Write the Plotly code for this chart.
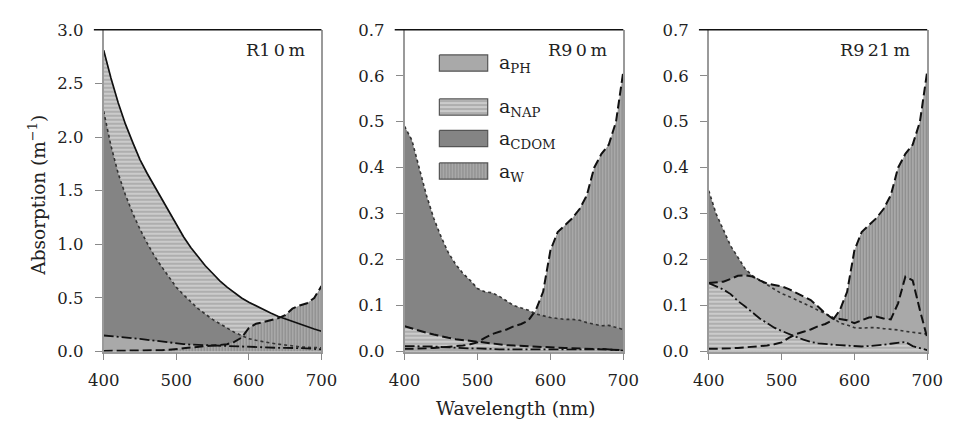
import plotly.graph_objects as go

WL = list(range(400, 701, 10))

WATER = [0.006, 0.006, 0.006, 0.007, 0.008, 0.009, 0.010, 0.011, 0.013, 0.016,
         0.020, 0.030, 0.038, 0.043, 0.048, 0.055, 0.060, 0.068, 0.090, 0.13,
         0.22, 0.26, 0.275, 0.29, 0.31, 0.34, 0.40, 0.43, 0.45, 0.50, 0.61]

# Panel R1 0 m
R1_NAP = [2.81, 2.55, 2.32, 2.12, 1.95, 1.79, 1.66, 1.54, 1.42, 1.30,
          1.18, 1.07, 0.97, 0.88, 0.80, 0.73, 0.66, 0.60, 0.55, 0.50,
          0.46, 0.425, 0.39, 0.36, 0.33, 0.305, 0.28, 0.255, 0.23, 0.21, 0.19]
R1_CDOM = [2.24, 1.92, 1.66, 1.46, 1.29, 1.14, 1.01, 0.89, 0.79, 0.69,
           0.60, 0.53, 0.46, 0.40, 0.35, 0.30, 0.26, 0.22, 0.18, 0.15,
           0.12, 0.105, 0.09, 0.08, 0.07, 0.06, 0.05, 0.045, 0.04, 0.037, 0.035]
R1_PH = [0.15, 0.145, 0.14, 0.132, 0.125, 0.118, 0.11, 0.10, 0.09, 0.082,
         0.075, 0.07, 0.065, 0.062, 0.06, 0.057, 0.055, 0.052, 0.05, 0.047,
         0.045, 0.042, 0.04, 0.038, 0.035, 0.035, 0.035, 0.035, 0.03, 0.025, 0.02]

# Panel R9 0 m
R9S_CDOM = [0.49, 0.46, 0.40, 0.34, 0.29, 0.25, 0.215, 0.19, 0.17, 0.155,
            0.137, 0.13, 0.128, 0.12, 0.11, 0.10, 0.095, 0.09, 0.082, 0.078,
            0.074, 0.072, 0.07, 0.07, 0.068, 0.063, 0.06, 0.056, 0.057, 0.052, 0.048]
R9S_NAP = [0.055, 0.05, 0.045, 0.041, 0.037, 0.033, 0.03, 0.027, 0.025, 0.023,
           0.021, 0.019, 0.017, 0.015, 0.014, 0.013, 0.012, 0.011, 0.010, 0.0095,
           0.009, 0.0085, 0.008, 0.0075, 0.007, 0.0065, 0.006, 0.0055, 0.005, 0.004, 0.003]
R9S_PH = [0.012, 0.012, 0.011, 0.011, 0.011, 0.010, 0.009, 0.008, 0.008, 0.007,
          0.007, 0.006, 0.006, 0.005, 0.005, 0.005, 0.004, 0.004, 0.004, 0.004,
          0.004, 0.004, 0.004, 0.004, 0.004, 0.004, 0.005, 0.006, 0.005, 0.003, 0.002]

# Panel R9 21 m
R9D_CDOM = [0.35, 0.30, 0.265, 0.23, 0.205, 0.18, 0.165, 0.155, 0.146, 0.135,
            0.126, 0.12, 0.113, 0.105, 0.098, 0.09, 0.082, 0.075, 0.062, 0.058,
            0.052, 0.051, 0.052, 0.052, 0.05, 0.049, 0.047, 0.044, 0.042, 0.04, 0.038]
R9D_PH = [0.149, 0.15, 0.152, 0.158, 0.165, 0.166, 0.163, 0.155, 0.148, 0.145,
          0.142, 0.136, 0.128, 0.12, 0.112, 0.098, 0.083, 0.072, 0.071, 0.068,
          0.062, 0.068, 0.074, 0.076, 0.072, 0.07, 0.105, 0.163, 0.155, 0.09, 0.03]
R9D_NAP = [0.149, 0.142, 0.135, 0.125, 0.11, 0.098, 0.085, 0.072, 0.062, 0.052,
           0.045, 0.038, 0.032, 0.026, 0.021, 0.018, 0.016, 0.015, 0.014, 0.013,
           0.011, 0.011, 0.012, 0.013, 0.015, 0.017, 0.019, 0.021, 0.012, 0.007, 0.003]

PANEL_LABELS = ["R1\u20090\u2009m", "R9\u20090\u2009m", "R9\u200921\u2009m"]
Y_MAX = [3.0, 0.7, 0.7]
Y_TICKS = [[0, 0.5, 1.0, 1.5, 2.0, 2.5, 3.0],
           [0, 0.1, 0.2, 0.3, 0.4, 0.5, 0.6, 0.7],
           [0, 0.1, 0.2, 0.3, 0.4, 0.5, 0.6, 0.7]]
X_TICKS = [400, 500, 600, 700]
LEGEND_NAMES = ["a<sub>PH</sub>", "a<sub>NAP</sub>", "a<sub>CDOM</sub>", "a<sub>W</sub>"]
LEGEND_KEYS = ["PH", "NAP", "CDOM", "W"]

FONT = "DejaVu Serif"
W, H = 958, 433

STYLE = {
    "PH": dict(fillcolor="#a9a9a9"),
    "CDOM": dict(fillcolor="#848484"),
    "NAP": dict(fillcolor="#c4c4c4",
                fillpattern=dict(shape="-", bgcolor="#cbcbcb", fgcolor="#8c8c8c",
                                 size=4, solidity=0.45)),
    "W": dict(fillcolor="#a0a0a0",
              fillpattern=dict(shape="|", bgcolor="#ababab", fgcolor="#686868",
                               size=3, solidity=0.4)),
}

LINE_SOLID = dict(color="#111111", width=1.7, dash="solid")
LINE_DOT = dict(color="#333333", width=1.6, dash="dot")
LINE_DASH = dict(color="#111111", width=2.0, dash="9px,4px")
LINE_DASHDOT = dict(color="#111111", width=1.8, dash="10px,3px,2px,3px")

# per panel: (key, values, line) listed in drawing order
PANELS = [
    [("NAP", R1_NAP, LINE_SOLID), ("CDOM", R1_CDOM, LINE_DOT),
     ("PH", R1_PH, LINE_DASHDOT), ("W", WATER, LINE_DASH)],
    [("W", WATER, LINE_DASH), ("CDOM", R9S_CDOM, LINE_DOT),
     ("NAP", R9S_NAP, LINE_DASH), ("PH", R9S_PH, LINE_DASHDOT)],
    [("W", WATER, LINE_DASH), ("CDOM", R9D_CDOM, LINE_DOT),
     ("PH", R9D_PH, LINE_DASH), ("NAP", R9D_NAP, LINE_DASHDOT)],
]

X_DOM_PX = [(90.7, 316.0), (402.0, 628.3), (716.7, 942.7)]
Y_DOM_PX = (21.7, 358.3)

fig = go.Figure()
layout = dict(width=W, height=H, margin=dict(l=0, r=0, t=0, b=0),
              paper_bgcolor="white", plot_bgcolor="rgba(0,0,0,0)", showlegend=False,
              font=dict(family=FONT, size=16, color="#222222"))
annotations = []
shapes = []

ydom = [(H - Y_DOM_PX[1]) / H, (H - Y_DOM_PX[0]) / H]

for i, panel in enumerate(PANELS):
    sfx = "" if i == 0 else str(i + 1)
    xa, ya = "x" + sfx, "y" + sfx
    for key, vals, line in panel:
        fig.add_trace(go.Scatter(x=WL, y=vals, xaxis=xa, yaxis=ya, mode="none",
                                 fill="tozeroy", hoverinfo="skip", **STYLE[key]))
    for key, vals, line in panel:
        fig.add_trace(go.Scatter(x=WL, y=vals, xaxis=xa, yaxis=ya, mode="lines",
                                 line=line, hoverinfo="skip"))
    x0, x1 = X_DOM_PX[i]
    layout["xaxis" + sfx] = dict(
        domain=[x0 / W, x1 / W], range=[400, 700], anchor=ya,
        tickvals=X_TICKS, ticks="outside", ticklen=7, tickcolor="#8a8a8a",
        showline=True, linecolor="#9a9a9a", linewidth=1.5, showgrid=False,
        zeroline=False, tickfont=dict(size=16.5, family=FONT, color="#222"),
        ticklabelstandoff=6)
    layout["yaxis" + sfx] = dict(
        domain=ydom, range=[0, Y_MAX[i]], anchor=xa,
        tickvals=Y_TICKS[i], tickformat=".1f", ticks="outside", ticklen=7,
        tickcolor="#8a8a8a", showline=True, linecolor="#9a9a9a", linewidth=1.5,
        mirror=True, showgrid=False, zeroline=False,
        tickfont=dict(size=16.5, family=FONT, color="#222"), ticklabelstandoff=8)
    shapes.append(dict(type="line", xref=xa + " domain", yref=ya + " domain",
                       x0=-0.045, x1=1.0, y0=1, y1=1,
                       line=dict(color="#111111", width=1.5)))
    annotations.append(dict(text=PANEL_LABELS[i], xref=xa + " domain",
                            yref=ya + " domain", x=0.935, y=0.938,
                            xanchor="right", yanchor="middle", showarrow=False,
                            font=dict(size=17.5, family=FONT, color="#222")))

# legend drawn inside the middle panel on an auxiliary axis (pixel units)
LEG_TOP_PX, LEG_BOT_PX = 44, 184
LEG_ROWS = [48, 94, 127, 161]
LEG_BOX_H = 17
LEG_BOX_W = 50
layout["xaxis4"] = dict(domain=[436 / W, 606 / W], range=[0, 170], visible=False,
                        anchor="y4", fixedrange=True)
layout["yaxis4"] = dict(domain=[(H - LEG_BOT_PX) / H, (H - LEG_TOP_PX) / H],
                        range=[LEG_BOT_PX, LEG_TOP_PX], visible=False,
                        anchor="x4", fixedrange=True)
for key, name, top in zip(LEGEND_KEYS, LEGEND_NAMES, LEG_ROWS):
    bx = [2, 2 + LEG_BOX_W, 2 + LEG_BOX_W, 2, 2]
    by = [top, top, top + LEG_BOX_H, top + LEG_BOX_H, top]
    fig.add_trace(go.Scatter(x=bx, y=by, xaxis="x4", yaxis="y4", fill="toself",
                             mode="lines", line=dict(color="#555555", width=1.2),
                             hoverinfo="skip", **STYLE[key]))
    annotations.append(dict(text=name, xref="x4", yref="y4", x=62,
                            y=top + LEG_BOX_H / 2 + 1, xanchor="left",
                            yanchor="middle", showarrow=False,
                            font=dict(size=19, family=FONT, color="#222")))

annotations.append(dict(text="Absorption (m<sup>\u22121</sup>)", xref="paper",
                        yref="paper", x=22 / W, y=(H - 195) / H, textangle=-90,
                        xanchor="center", yanchor="middle", showarrow=False,
                        font=dict(size=18.5, family=FONT, color="#222")))
annotations.append(dict(text="Wavelength (nm)", xref="paper", yref="paper",
                        x=517 / W, y=(H - 418) / H, xanchor="center",
                        yanchor="middle", showarrow=False,
                        font=dict(size=18.5, family=FONT, color="#222")))

layout["annotations"] = annotations
layout["shapes"] = shapes
fig.update_layout(**layout)
fig.write_html("out.html")
